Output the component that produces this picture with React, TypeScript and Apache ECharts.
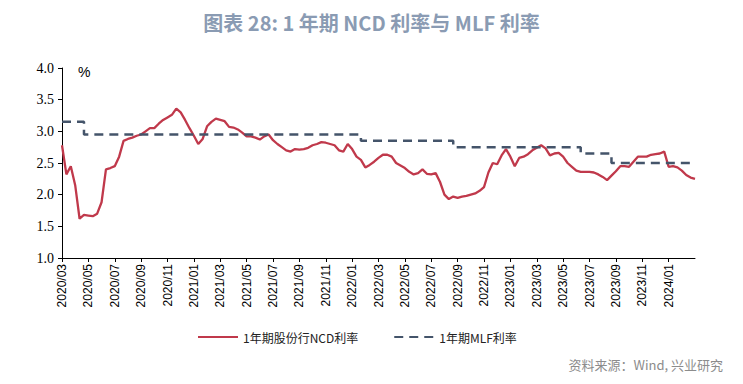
import React, { useEffect, useRef } from "react";
import * as echarts from "echarts";

// 10-day sampling dates: 1st, 11th, 21st of each month, 2020/03/01 .. 2024/03/01
const months: string[] = [];
for (let y = 2020; y <= 2024; y++) {
  for (let m = 1; m <= 12; m++) {
    if (y === 2020 && m < 3) continue;
    if (y === 2024 && m > 3) continue;
    months.push(`${y}/${String(m).padStart(2, "0")}`);
  }
}
const dates: string[] = [];
months.forEach((mo) => {
  ["01", "11", "21"].forEach((d) => {
    if (mo === "2024/03" && d !== "01") return;
    dates.push(`${mo}/${d}`);
  });
});

// 1年期股份行NCD利率 (%)
const ncd: number[] = [
  2.78, 2.32, 2.45, // 2020/03
  2.15, 1.62, 1.68, // 2020/04
  1.67, 1.66, 1.7, // 2020/05
  1.88, 2.4, 2.42, // 2020/06
  2.45, 2.6, 2.85, // 2020/07
  2.88, 2.9, 2.93, // 2020/08
  2.95, 3.0, 3.05, // 2020/09
  3.05, 3.12, 3.18, // 2020/10
  3.22, 3.26, 3.36, // 2020/11
  3.3, 3.18, 3.05, // 2020/12
  2.93, 2.8, 2.88, // 2021/01
  3.08, 3.15, 3.2, // 2021/02
  3.18, 3.16, 3.07, // 2021/03
  3.06, 3.03, 2.98, // 2021/04
  2.92, 2.92, 2.9, // 2021/05
  2.87, 2.92, 2.95, // 2021/06
  2.86, 2.8, 2.75, // 2021/07
  2.7, 2.68, 2.72, // 2021/08
  2.71, 2.72, 2.74, // 2021/09
  2.78, 2.8, 2.83, // 2021/10
  2.82, 2.8, 2.78, // 2021/11
  2.7, 2.68, 2.8, // 2021/12
  2.72, 2.6, 2.55, // 2022/01
  2.43, 2.47, 2.52, // 2022/02
  2.58, 2.63, 2.63, // 2022/03
  2.6, 2.5, 2.46, // 2022/04
  2.42, 2.36, 2.32, // 2022/05
  2.34, 2.4, 2.33, // 2022/06
  2.32, 2.34, 2.2, // 2022/07
  2.0, 1.93, 1.97, // 2022/08
  1.95, 1.97, 1.98, // 2022/09
  2.0, 2.02, 2.06, // 2022/10
  2.12, 2.35, 2.5, // 2022/11
  2.48, 2.62, 2.72, // 2022/12
  2.6, 2.45, 2.58, // 2023/01
  2.6, 2.64, 2.7, // 2023/02
  2.74, 2.78, 2.73, // 2023/03
  2.62, 2.65, 2.66, // 2023/04
  2.6, 2.5, 2.44, // 2023/05
  2.38, 2.36, 2.36, // 2023/06
  2.36, 2.35, 2.32, // 2023/07
  2.28, 2.23, 2.3, // 2023/08
  2.37, 2.45, 2.45, // 2023/09
  2.44, 2.52, 2.6, // 2023/10
  2.6, 2.6, 2.63, // 2023/11
  2.64, 2.65, 2.68, // 2023/12
  2.44, 2.45, 2.43, // 2024/01
  2.38, 2.31, 2.27, // 2024/02
  2.25, // 2024/03/01
];

// 1年期MLF利率 (%): [start date, rate]
const mlfSteps: [string, number][] = [
  ["2020/03/01", 3.15],
  ["2020/04/21", 2.95],
  ["2022/01/21", 2.85],
  ["2022/08/21", 2.75],
  ["2023/06/11", 2.65],
  ["2023/08/21", 2.5],
];
const mlfEnd = "2024/02/21";

const yTicks = [1.0, 1.5, 2.0, 2.5, 3.0, 3.5, 4.0];

const mlf: (number | null)[] = dates.map((d) => {
  if (d > mlfEnd) return null;
  let v: number | null = null;
  for (const [s, r] of mlfSteps) if (d >= s) v = r;
  return v;
});

const showIdx = (i: number) => i % 6 === 0 && i < dates.length - 1;

export default function App() {
  const ref = useRef<HTMLDivElement>(null);
  useEffect(() => {
    if (!ref.current) return;
    const chart = echarts.init(ref.current, undefined, { renderer: "svg" });
    chart.setOption({
      animation: false,
      backgroundColor: "#ffffff",
      title: {
        text: "图表 28: 1 年期 NCD 利率与 MLF 利率",
        left: "center",
        top: 7,
        textStyle: {
          fontFamily: "Noto Sans CJK SC",
          fontWeight: "bold",
          fontSize: 20,
          color: "#8a9bb3",
        },
      },
      grid: { left: 62, right: 48, top: 68, bottom: 126, containLabel: false },
      legend: {
        top: 326,
        left: 192,
        itemWidth: 40,
        itemHeight: 10,
        itemGap: 35,
        itemStyle: { opacity: 0 },
        textStyle: {
          fontFamily: "Noto Sans CJK SC",
          fontSize: 12,
          color: "#222",
        },
        data: ["1年期股份行NCD利率", "1年期MLF利率"],
      },
      xAxis: {
        type: "category",
        data: dates,
        boundaryGap: false,
        axisLine: { lineStyle: { color: "#000", width: 1 } },
        axisTick: {
          interval: (i: number) => showIdx(i),
          length: 4,
          lineStyle: { color: "#000" },
        },
        axisLabel: {
          interval: (i: number) => showIdx(i),
          rotate: 90,
          fontFamily: "Liberation Sans",
          fontSize: 12,
          color: "#000",
          margin: 6,
          formatter: (v: string) => v.slice(0, 7),
        },
        splitLine: { show: false },
      },
      yAxis: {
        type: "value",
        min: yTicks[0],
        max: yTicks[yTicks.length - 1],
        interval: 0.5,
        axisLine: { show: true, lineStyle: { color: "#000", width: 1 } },
        axisTick: { show: true, length: 4, lineStyle: { color: "#000" } },
        axisLabel: {
          fontFamily: "Liberation Serif",
          fontSize: 14,
          color: "#000",
          margin: 8,
          formatter: (v: number) => v.toFixed(1),
        },
        splitLine: { show: false },
      },
      graphic: [
        {
          type: "text",
          left: 78,
          top: 65,
          style: {
            text: "%",
            fontFamily: "Liberation Sans",
            fontSize: 14,
            fill: "#000",
          },
        },
        {
          type: "text",
          right: 20,
          top: 358,
          style: {
            text: "资料来源：Wind, 兴业研究",
            fontFamily: "Noto Sans CJK SC",
            fontSize: 13,
            fill: "#8c8c8c",
          },
        },
      ],
      series: [
        {
          name: "1年期股份行NCD利率",
          type: "line",
          data: ncd,
          showSymbol: false,
          symbol: "none",
          lineStyle: { color: "#C0394B", width: 2.3 },
          itemStyle: { color: "#C0394B" },
        },
        {
          name: "1年期MLF利率",
          type: "line",
          data: mlf,
          step: "end",
          showSymbol: false,
          symbol: "none",
          lineStyle: { color: "#44546A", width: 2.5, type: [9, 6] },
          itemStyle: { color: "#44546A" },
        },
      ],
    });
    return () => chart.dispose();
  }, []);
  return (
    <div
      ref={ref}
      style={{ position: "absolute", left: 0, top: 0, width: 743, height: 384 }}
    />
  );
}
